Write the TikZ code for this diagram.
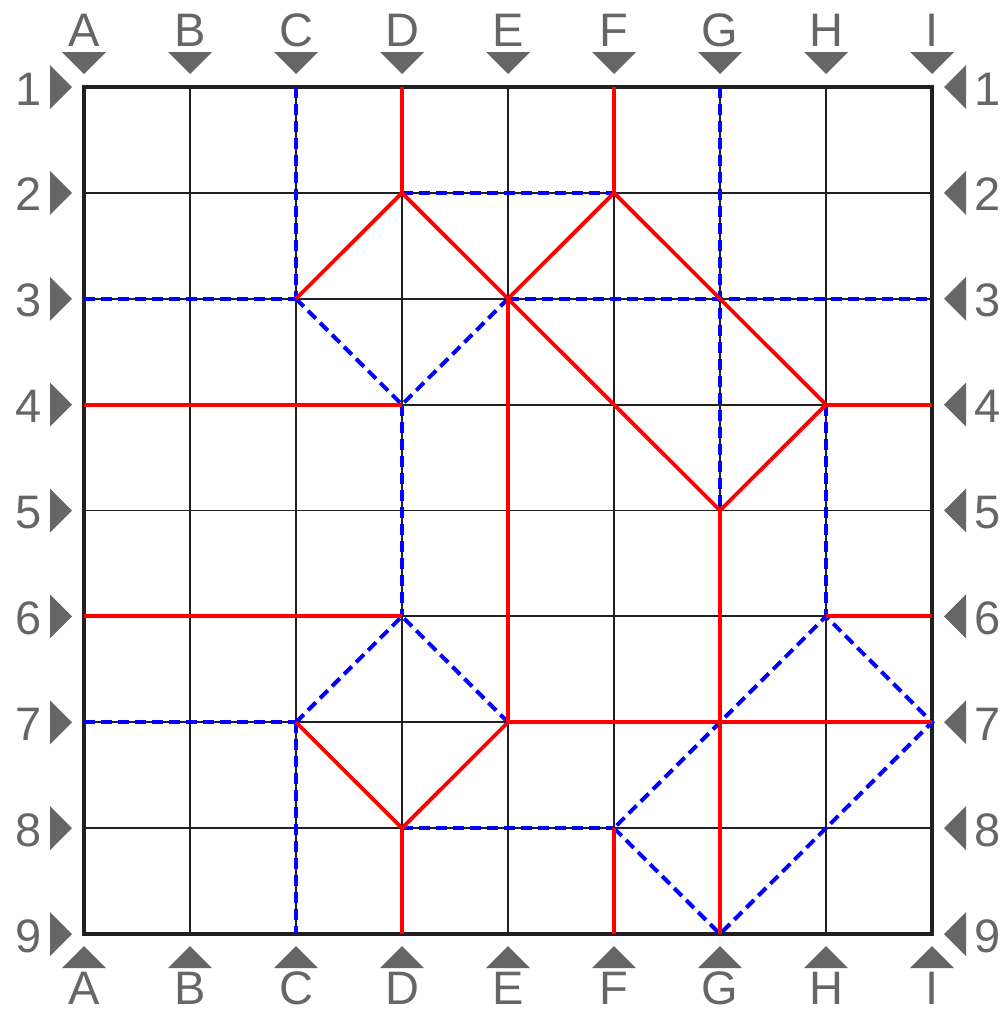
\documentclass[tikz,border=0pt]{standalone}
\usepackage{fontspec}
\setmainfont{Liberation Sans}
\definecolor{labgray}{RGB}{102,102,102}
\definecolor{gridk}{RGB}{35,31,32}
\tikzset{
  gridthin/.style={draw=gridk, line width=1.9pt},
  gridborder/.style={draw=gridk, line width=3.2pt},
  redl/.style={draw=red, line width=3.8pt},
  bluel/.style={draw=blue, line width=4pt, dash pattern=on 11pt off 6pt},
  lab/.style={text=labgray, font=\fontsize{47}{47}\selectfont, inner sep=0pt, anchor=base, text depth=0pt},
  tri/.style={fill=labgray, draw=none}
}
\begin{document}
\begin{tikzpicture}[x=1pt,y=-1pt]
\useasboundingbox (0,0) rectangle (1005,1012);
% grid coordinates
\foreach \c [count=\i from 0] in {A,B,C,D,E,F,G,H,I}{
  \foreach \r [count=\j from 0] in {1,2,3,4,5,6,7,8,9}{
    \coordinate (\c\r) at ({84+106*\i},{87+105.875*\j});
  }
}
% grid lines
\foreach \c in {B,C,D,E,F,G,H}{ \draw[gridthin] (\c1) -- (\c9); }
\foreach \r in {2,3,4,5,6,7,8}{ \draw[gridthin] (A\r) -- (I\r); }
\draw[gridborder] (A1) rectangle (I9);
% blue dashed lines
\draw[bluel] (C1) -- (C3);
\draw[bluel] (G1) -- (G5);
\draw[bluel] (D2) -- (F2);
\draw[bluel] (A3) -- (C3);
\draw[bluel] (E3) -- (I3);
\draw[bluel] (C3) -- (D4) -- (E3);
\draw[bluel] (D4) -- (D6);
\draw[bluel] (H4) -- (H6);
\draw[bluel] (C7) -- (D6) -- (E7);
\draw[bluel] (A7) -- (C7);
\draw[bluel] (C7) -- (C9);
\draw[bluel] (D8) -- (F8);
\draw[bluel] (F8) -- (G9) -- (I7) -- (H6) -- (F8);
% red lines
\draw[redl] (D1) -- (D2);
\draw[redl] (F1) -- (F2);
\draw[redl] (C3) -- (D2) -- (E3) -- (F2) -- (H4) -- (G5) -- (E3);
\draw[redl] (A4) -- (D4);
\draw[redl] (H4) -- (I4);
\draw[redl] (E3) -- (E7);
\draw[redl] (G5) -- (G9);
\draw[redl] (A6) -- (D6);
\draw[redl] (H6) -- (I6);
\draw[redl] (E7) -- (I7);
\draw[redl] (C7) -- (D8) -- (E7);
\draw[redl] (D8) -- (D9);
\draw[redl] (F8) -- (F9);
% column labels and markers
\foreach \c [count=\i from 0] in {A,B,C,D,E,F,G,H,I}{
  \pgfmathsetmacro{\xx}{84+106*\i}
  \node[lab] (top\c) at (\xx,46) {\c};
  \node[lab] (bot\c) at (\xx,1004) {\c};
  \fill[tri] (\xx-22,52) -- (\xx+22,52) -- (\xx,74) -- cycle;
  \fill[tri] (\xx-22,968) -- (\xx+22,968) -- (\xx,946) -- cycle;
}
% row labels and markers
\foreach \r [count=\j from 0] in {1,2,3,4,5,6,7,8,9}{
  \pgfmathsetmacro{\yy}{87+105.875*\j}
  \node[lab] (left\r) at (29,\yy+18) {\r};
  \node[lab] (right\r) at (988,\yy+18) {\r};
  \fill[tri] (50,\yy-22) -- (50,\yy+22) -- (72,\yy) -- cycle;
  \fill[tri] (966,\yy-22) -- (966,\yy+22) -- (944,\yy) -- cycle;
}
\end{tikzpicture}
\end{document}
